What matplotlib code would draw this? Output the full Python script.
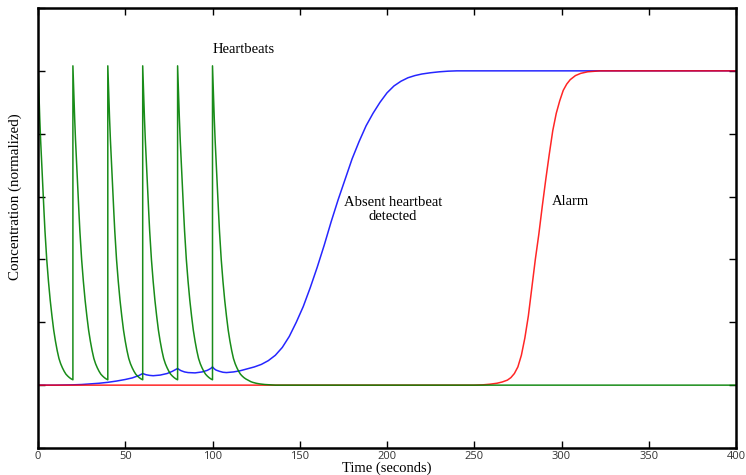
import numpy as np
import matplotlib
matplotlib.use('Agg')
import matplotlib.pyplot as plt

# heartbeat times and the decay shape after each beat
beat_times = [0, 20, 40, 60, 80, 100]
decay_offsets = [0, 0.5, 1, 1.5, 2, 2.5, 3, 3.5, 4, 4.5, 5, 5.5, 6, 7, 8, 9,
                 10, 11, 12, 13, 14, 15, 16, 17, 18, 19, 20]
decay_values = [1.016, 0.93, 0.85, 0.78, 0.72, 0.66, 0.60, 0.545, 0.49, 0.445,
                0.40, 0.365, 0.33, 0.27, 0.22, 0.175, 0.14, 0.11, 0.085,
                0.068, 0.055, 0.044, 0.035, 0.029, 0.024, 0.020, 0.017]
tail_offsets = [21, 22, 23, 25, 27, 30, 33, 36]
tail_values = [0.014, 0.011, 0.009, 0.006, 0.004, 0.002, 0.001, 0.0]

# absent heartbeat detector
blue_t = [0, 10, 20, 25, 30, 35, 40, 45, 50, 54, 58, 60, 61, 62, 64, 66, 70,
          74, 77, 79, 80, 81, 82, 84, 86, 90, 94, 97, 99, 100, 101, 102, 104,
          106, 108, 112, 116, 120, 124, 128, 132, 136, 140, 144, 148, 152,
          156, 160, 164, 168, 172, 176, 180, 184, 188, 192, 196, 200, 204,
          208, 212, 216, 220, 225, 230, 235, 240, 400]
blue_y = [0, 0.0, 0.001, 0.002, 0.004, 0.006, 0.009, 0.013, 0.018, 0.023,
          0.031, 0.037, 0.035, 0.033, 0.031, 0.030, 0.032, 0.037, 0.044, 0.050,
          0.053, 0.049, 0.046, 0.042, 0.040, 0.039, 0.042, 0.047, 0.053, 0.058,
          0.052, 0.048, 0.044, 0.041, 0.040, 0.042, 0.046, 0.052, 0.058, 0.066,
          0.078, 0.095, 0.12, 0.155, 0.20, 0.25, 0.31, 0.375, 0.445, 0.52,
          0.59, 0.655, 0.72, 0.775, 0.825, 0.865, 0.90, 0.93, 0.952, 0.967,
          0.978, 0.985, 0.99, 0.994, 0.997, 0.999, 1.0, 1.0]

# alarm
red_t = [0, 250, 255, 259, 263, 266, 269, 271, 273, 275, 277, 279, 281, 283,
         285, 287, 289, 291, 293, 295, 297, 299, 301, 303, 305, 308, 311, 315,
         322, 400]
red_y = [0, 0, 0.001, 0.003, 0.006, 0.010, 0.016, 0.024, 0.037, 0.058, 0.095,
         0.15, 0.22, 0.31, 0.40, 0.48, 0.57, 0.655, 0.735, 0.81, 0.865, 0.905,
         0.938, 0.958, 0.972, 0.985, 0.992, 0.997, 1.0, 1.0]

# build the green trace from the beats
green_t = []
green_y = []
for i, b in enumerate(beat_times):
    last = i == len(beat_times) - 1
    offs = decay_offsets + tail_offsets if last else decay_offsets
    vals = decay_values + tail_values if last else decay_values
    if i > 0:
        green_t.append(b)
        green_y.append(decay_values[-1])
    for o, v in zip(offs, vals):
        green_t.append(b + o)
        green_y.append(v)
green_t.append(400)
green_y.append(0.0)

fig = plt.figure(figsize=(7.46, 4.75), dpi=100)
ax = fig.add_axes([38 / 746, 27 / 475, 698 / 746, 440 / 475])

ax.plot(blue_t, blue_y, color='blue', lw=1.1, alpha=0.85)
ax.plot(red_t, red_y, color='red', lw=1.1, alpha=0.85)
ax.plot(green_t, green_y, color='green', lw=1.1, alpha=0.9)

ax.set_xlim(0, 400)
ax.set_ylim(-0.2, 1.2)
ax.set_xticks(np.arange(0, 401, 50))
ax.set_yticks(np.arange(-0.2, 1.21, 0.2))
ax.set_yticklabels([])
ax.tick_params(direction='in', top=True, right=True, length=5, width=1,
               labelsize=8, labelcolor='#333333', pad=2)
for lab in ax.get_xticklabels():
    lab.set_family('Open Sans')
for s in ax.spines.values():
    s.set_linewidth(1.8)

serif = 'Liberation Serif'
ax.set_xlabel('Time (seconds)', family=serif, fontsize=10.5, labelpad=0)
fig.text(15 / 746, 1 - 196.5 / 475, 'Concentration (normalized)', family=serif,
         fontsize=10.8, rotation=90, ha='center', va='center')

ax.text(100, 1.067, 'Heartbeats', family=serif, fontsize=10.5, ha='left', va='center')
ax.text(203.5, 0.56, 'Absent heartbeat\ndetected', family=serif, fontsize=10.5,
        ha='center', va='center', linespacing=1.1)
ax.text(294.5, 0.584, 'Alarm', family=serif, fontsize=10.5, ha='left', va='center')

fig.savefig('out.png', dpi=100)
